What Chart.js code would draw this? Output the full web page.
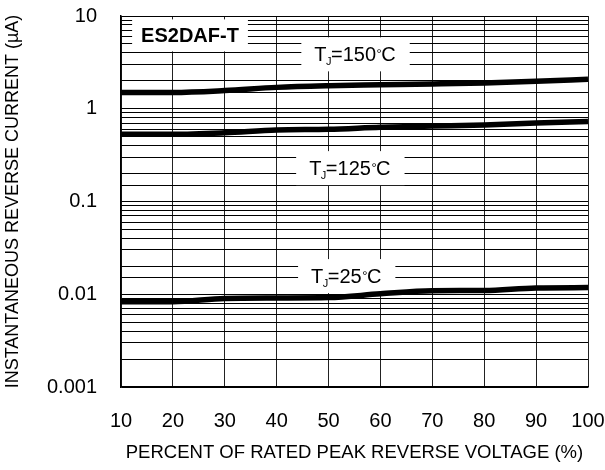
<!DOCTYPE html>
<html><head><meta charset="utf-8">
<script src="https://cdn.jsdelivr.net/npm/chart.js@4"></script>
<style>html,body{margin:0;padding:0;background:#fff}#wrap{width:605px;height:470px}</style>
</head><body><div id="wrap"><canvas id="c" width="605" height="470"></canvas></div>
<script>
const voltagePct = [10, 20, 30, 40, 50, 60, 70, 80, 90, 100];
const current150 = [1.5, 1.5, 1.57, 1.7, 1.77, 1.81, 1.85, 1.9, 1.98, 2.08];
const current125 = [0.53, 0.53, 0.55, 0.59, 0.6, 0.63, 0.65, 0.67, 0.7, 0.73];
const current25 = [0.0083, 0.0083, 0.009, 0.0091, 0.0092, 0.0101, 0.0109, 0.011, 0.0117, 0.0118];
const yTickLabels = [0.001, 0.01, 0.1, 1, 10];
const xTickLabels = [10, 20, 30, 40, 50, 60, 70, 80, 90, 100];
const partName = 'ES2DAF-T';
const curveLabels = [
  {temp: '150', x: 55.2, y: 3.86},
  {temp: '125', x: 54.2, y: 0.229},
  {temp: '25', x: 53.5, y: 0.0157}
];
const FONT = '"Liberation Sans", Arial, sans-serif';

const toPts = arr => arr.map((v, i) => ({x: voltagePct[i], y: v}));

const labelPlugin = {
  id: 'labels',
  beforeDatasetsDraw(chart) {
    const ctx = chart.ctx, xs = chart.scales.x, ys = chart.scales.y;
    ctx.save();
    // part name box
    ctx.font = 'bold 20px ' + FONT;
    const px = xs.getPixelForValue(23.3), py = ys.getPixelForValue(6.18);
    const pw = ctx.measureText(partName).width;
    ctx.fillStyle = '#fff';
    ctx.fillRect(px - pw / 2 - 9, py - 16, pw + 18, 32);
    ctx.fillStyle = '#000';
    ctx.textAlign = 'left'; ctx.textBaseline = 'middle';
    ctx.fillText(partName, px - pw / 2, py + 1);
    // curve labels
    curveLabels.forEach(l => {
      const cx = xs.getPixelForValue(l.x), cy = ys.getPixelForValue(l.y);
      const big = '20px ' + FONT, small = '11px ' + FONT, deg = '13px ' + FONT;
      const num = '=' + l.temp;
      ctx.font = big;
      const wT = ctx.measureText('T').width;
      const wN = ctx.measureText(num).width;
      const wC = ctx.measureText('C').width;
      ctx.font = small;
      const wJ = ctx.measureText('J').width;
      ctx.font = deg;
      const wD = ctx.measureText('°').width;
      const tw = wT + wJ + wN + wD + wC;
      ctx.fillStyle = '#fff';
      ctx.fillRect(cx - tw / 2 - 13, cy - 17, tw + 26, 34);
      ctx.fillStyle = '#000';
      ctx.textBaseline = 'alphabetic';
      let x0 = cx - tw / 2;
      const base = cy + 7;
      ctx.font = big; ctx.fillText('T', x0, base); x0 += wT;
      ctx.font = small; ctx.fillText('J', x0 - 0.5, base + 4); x0 += wJ - 1;
      ctx.font = big; ctx.fillText(num, x0, base); x0 += wN;
      ctx.font = deg; ctx.fillText('°', x0 + 0.5, base - 3); x0 += wD;
      ctx.font = big; ctx.fillText('C', x0, base);
    });
    ctx.restore();
  }
};

const lineStyle = {borderColor: '#000', borderWidth: 5.5, pointRadius: 0, fill: false, cubicInterpolationMode: 'monotone'};

new Chart(document.getElementById('c'), {
  type: 'line',
  data: {
    datasets: [
      Object.assign({label: 'TJ=150°C', data: toPts(current150)}, lineStyle),
      Object.assign({label: 'TJ=125°C', data: toPts(current125)}, lineStyle),
      Object.assign({label: 'TJ=25°C', data: toPts(current25)}, lineStyle)
    ]
  },
  options: {
    responsive: false,
    animation: false,
    devicePixelRatio: 1,
    layout: {padding: {top: 16, right: 17, left: 0, bottom: 0}},
    plugins: {legend: {display: false}, tooltip: {enabled: false}},
    scales: {
      x: {
        type: 'linear', min: 10, max: 100,
        afterBuildTicks(s) { s.ticks = xTickLabels.map(v => ({value: v})); },
        afterFit(s) { s.height = 83; s.paddingLeft = 0; s.paddingRight = 0; },
        ticks: {color: '#000', font: {family: FONT, size: 20}, padding: 22, maxRotation: 0, autoSkip: false},
        grid: {color: '#222', lineWidth: 1, drawTicks: false},
        border: {color: '#000', width: 1.5},
        title: {display: true, text: 'PERCENT OF RATED PEAK REVERSE VOLTAGE (%)', color: '#000', font: {family: FONT, size: 18.5}, padding: {top: 0, bottom: 6}}
      },
      y: {
        type: 'logarithmic', min: 0.001, max: 10,
        afterFit(s) { s.width = 121; s.paddingTop = 0; s.paddingBottom = 0; },
        ticks: {
          color: '#000', font: {family: FONT, size: 20}, padding: 24, autoSkip: false,
          callback(v) { return yTickLabels.some(t => Math.abs(t - v) / t < 1e-6) ? String(v) : ''; }
        },
        grid: {color: '#000', lineWidth: 1, drawTicks: false},
        border: {color: '#000', width: 1.5},
        title: {display: true, text: 'INSTANTANEOUS REVERSE CURRENT (µA)', color: '#000', font: {family: FONT, size: 18}, padding: {top: 2, bottom: 0}}
      }
    }
  },
  plugins: [labelPlugin]
});
</script></body></html>
